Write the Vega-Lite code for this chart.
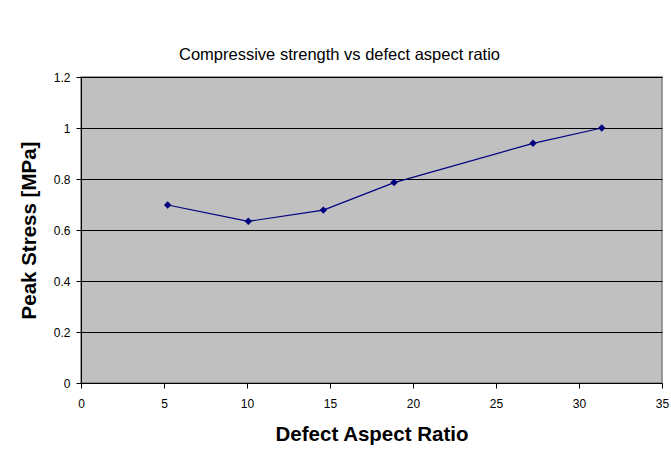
{
  "$schema": "https://vega.github.io/schema/vega-lite/v6.json",
  "width": 581,
  "height": 306,
  "autosize": {"type": "none"},
  "padding": {"left": 81, "top": 77, "right": 9, "bottom": 71},
  "background": "white",
  "title": {
    "text": "Compressive strength vs defect aspect ratio",
    "font": "Liberation Sans",
    "fontSize": 16.5,
    "fontWeight": "normal",
    "color": "#000000",
    "anchor": "middle",
    "frame": "group",
    "dx": -32,
    "offset": 8
  },
  "data": {
    "values": [
      {"ratio": 5.22, "stress": 0.698},
      {"ratio": 10.08, "stress": 0.634},
      {"ratio": 14.6, "stress": 0.678},
      {"ratio": 18.86, "stress": 0.786},
      {"ratio": 27.23, "stress": 0.94},
      {"ratio": 31.37, "stress": 1.0}
    ]
  },
  "encoding": {
    "x": {
      "field": "ratio",
      "type": "quantitative",
      "scale": {"domain": [0, 35], "nice": false, "zero": true},
      "axis": {
        "values": [0, 5, 10, 15, 20, 25, 30, 35],
        "grid": false,
        "title": "Defect Aspect Ratio",
        "titlePadding": 15,
        "labelPadding": 10
      }
    },
    "y": {
      "field": "stress",
      "type": "quantitative",
      "scale": {"domain": [0, 1.2], "nice": false, "zero": true},
      "axis": {
        "values": [0, 0.2, 0.4, 0.6, 0.8, 1, 1.2],
        "format": "~g",
        "grid": true,
        "gridColor": "#000000",
        "gridWidth": 1,
        "gridOpacity": 1,
        "title": "Peak Stress [MPa]",
        "titlePadding": 14,
        "labelPadding": 6
      }
    }
  },
  "layer": [
    {"mark": {"type": "line", "color": "#000080", "strokeWidth": 1.2}},
    {"mark": {"type": "point", "shape": "diamond", "filled": true, "size": 55, "color": "#000080", "opacity": 1}}
  ],
  "config": {
    "view": {"fill": "#C0C0C0", "stroke": "#808080", "strokeWidth": 1.5},
    "axis": {
      "labelFont": "Liberation Sans",
      "labelFontSize": 12,
      "labelColor": "#000000",
      "labelFlush": false,
      "titleFont": "Liberation Sans",
      "titleFontSize": 20.5,
      "titleFontWeight": "bold",
      "titleColor": "#000000",
      "tickSize": 5,
      "tickColor": "#000000",
      "domainColor": "#000000",
      "domainWidth": 1
    }
  }
}
